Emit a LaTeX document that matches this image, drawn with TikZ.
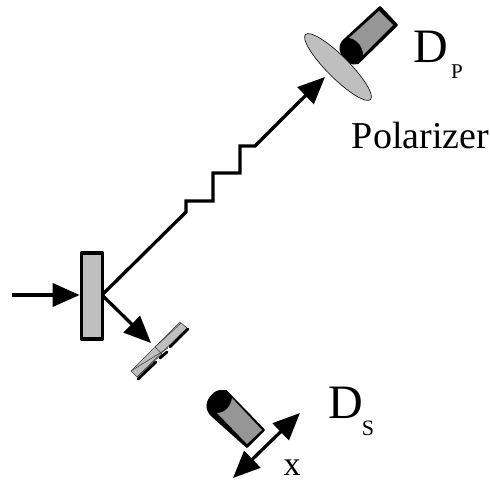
\documentclass[tikz,border=0pt]{standalone}
\usepackage{fontspec}
\setmainfont{Liberation Serif}
\usetikzlibrary{arrows.meta,shapes.geometric}
\definecolor{lgray}{HTML}{BFBFBF}
\definecolor{mgray}{HTML}{969696}
\tikzset{
  beam/.style={line width=3.3pt},
  bigtip/.style={-{Triangle[length=27pt,width=23pt]}},
  lab/.style={inner sep=0pt,text=black},
  mirrorbox/.style={draw=black,fill=lgray,line width=3.6pt,line join=round},
  capshape/.style={fill=black,draw=black,line width=2pt,line join=round},
  bodyshape/.style={fill=mgray},
  xtal/.style={draw=black!75,fill=lgray,line width=.6pt},
  xtalbar/.style={line width=2.8pt,line cap=round},
}
\begin{document}
\begin{tikzpicture}[x=1pt,y=-1pt]
\useasboundingbox (0,0) rectangle (490,483);
% mirror
\node[mirrorbox,minimum width=21pt,minimum height=86pt,inner sep=0pt] (mirror) at (92,296) {};
\coordinate (hit) at (102,295);
\coordinate (in) at (12,295);
\draw[beam,bigtip] (in) -- (in -| mirror.west);
% crystal
\draw[xtal] (180,322) -- (187,328) -- (137,377) -- (131,371) -- cycle;
\draw[draw=black!75,line width=.6pt] (131,371) -- (168,348) (155,347) -- (162,354) (155,347) -- (181,323) (137,377) -- (162,354);
\draw[xtalbar] (188,329) -- (170,347) (167,352) -- (160,358) (156,362) -- (138,379);
\coordinate (xtaltip) at (151,343);
\draw[beam,bigtip] (hit) -- (xtaltip);
% detector P
\path[capshape] (380,7) -- (397,25) -- (358,63) [rounded corners=5pt] -- (350,64) -- (341,54) -- (340,44) [sharp corners] -- cycle;
\path[bodyshape] (379,11) -- (393,25) -- (363,55) .. controls (363,47) and (357,39) .. (349,38) -- cycle;
% polarizer
\node[draw=black,fill=lgray,line width=.6pt,ellipse,minimum width=92pt,minimum height=22pt,inner sep=0pt,rotate=-45] (pol) at (338,67) {};
% photon
\coordinate (ptip) at (325,77);
\coordinate (pbase) at (300,101);
\draw[beam,line join=miter] (hit) -- (186,212) -- (186,201) -- (213,201) -- (213,173) -- (240,173) -- (240,146) -- (255,146) -- (pbase);
\draw[beam,bigtip] (pbase) -- (ptip);
% detector S
\path[capshape] (226,391) -- (264,430) -- (247,447) [rounded corners=5pt] -- (208,412) -- (207,402) -- (216,391) [sharp corners] -- cycle;
\path[bodyshape] (232,398) -- (262,430) -- (247,444) -- (217,413) .. controls (225,413) and (231,406) .. (232,398) -- cycle;
% x arrow
\coordinate (xa) at (300,413);
\coordinate (xb) at (233,478);
\draw[beam,{Triangle[length=27pt,width=23pt]}-{Triangle[length=27pt,width=23pt]}] (xb) -- (xa);
% labels
\node[lab,font=\fontsize{48}{48}\selectfont] (dp) at (431,47) {D};
\node[lab,font=\fontsize{21}{21}\selectfont] (dpsub) at (457,72) {P};
\node[lab,font=\fontsize{38}{38}\selectfont,anchor=base] (polt) at (420.5,148) {Polarizer};
\node[lab,font=\fontsize{48}{48}\selectfont] (ds) at (346,403) {D};
\node[lab,font=\fontsize{22}{22}\selectfont] (dssub) at (368,428) {S};
\node[lab,font=\fontsize{34}{34}\selectfont,anchor=base] (xlab) at (292,475.5) {x};
\end{tikzpicture}
\end{document}
